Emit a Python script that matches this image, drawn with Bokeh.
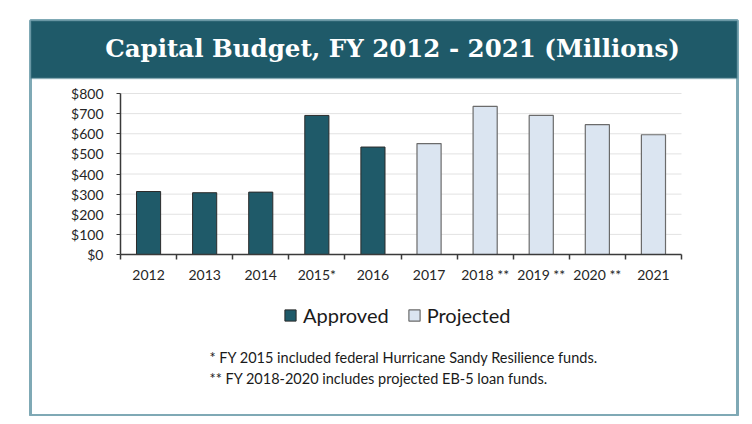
from bokeh.plotting import figure
from bokeh.models import (Range1d, FixedTicker, NumeralTickFormatter, Label, Legend,
                          LegendItem, ColumnDataSource, BoxAnnotation, LinearAxis)
from bokeh.embed import file_html
from bokeh.resources import INLINE

# ---- data ----
years = ["2012", "2013", "2014", "2015*", "2016", "2017", "2018 **", "2019 **", "2020 **", "2021"]
approved = [313, 307, 310, 691, 534, None, None, None, None, None]
projected = [None, None, None, None, None, 551, 736, 691, 645, 595]
y_ticks = [0, 100, 200, 300, 400, 500, 600, 700, 800]
title_text = "Capital Budget, FY 2012 - 2021 (Millions)"
notes = ["* FY 2015 included federal Hurricane Sandy Resilience funds.",
         "** FY 2018-2020 includes projected EB-5 loan funds."]

TEAL = "#1f5a69"
LIGHT = "#dbe5f1"
BORDER = "#7fa9b5"
FONT = "Lato"
AXC = "#3a3a3a"

# ---- layout geometry (picture pixels) ----
BOX_L, BOX_R, BOX_T, BOX_B = 30, 737, 20, 415     # outer card
PLOT_L, PLOT_R, PLOT_T, PLOT_B = 120, 681, 93, 254  # chart area
N = len(years)
YMAX = y_ticks[-1]
kx = (PLOT_R - PLOT_L) / N
ky = (PLOT_B - PLOT_T) / YMAX


def dx(px):
    return (px - PLOT_L) / kx


def dy(py):
    return (PLOT_B - py) / ky


W, H = 744, 416
p = figure(width=W, height=H, output_backend="svg", toolbar_location=None,
           x_axis_type=None, y_axis_type=None,
           x_range=Range1d(dx(BOX_L), dx(BOX_R)), y_range=Range1d(dy(BOX_B), dy(BOX_T)),
           min_border_left=BOX_L, min_border_right=W - BOX_R,
           min_border_top=BOX_T, min_border_bottom=H - BOX_B)
p.outline_line_color = BORDER
p.outline_line_width = 3
p.background_fill_color = "white"
p.border_fill_color = "white"
p.xgrid.visible = False
p.ygrid.visible = False

# title bar
p.add_layout(BoxAnnotation(left=dx(BOX_L), right=dx(BOX_R), top=dy(BOX_T), bottom=dy(78),
                           fill_color=TEAL, fill_alpha=1, line_color=BORDER, line_width=2,
                           level="underlay"))
p.add_layout(Label(x=dx(392), y=dy(48), text=title_text,
                   text_font="DejaVu Serif", text_font_style="bold", text_font_size="24.5px",
                   text_color="white", text_align="center", text_baseline="middle"))

# grid lines
grid_y = [v for v in y_ticks if v > 0]
p.segment(x0=[0] * len(grid_y), x1=[N] * len(grid_y), y0=grid_y, y1=grid_y,
          line_color="#e2e2e2", line_width=1)

ap_src = ColumnDataSource(dict(
    x=[i + 0.5 for i in range(N) if approved[i] is not None],
    top=[v for v in approved if v is not None]))
pr_src = ColumnDataSource(dict(
    x=[i + 0.5 for i in range(N) if projected[i] is not None],
    top=[v for v in projected if v is not None]))

r1 = p.vbar(x="x", top="top", width=0.43, bottom=0, source=ap_src,
            fill_color=TEAL, line_color="#2b2b2b", line_width=1)
r2 = p.vbar(x="x", top="top", width=0.43, bottom=0, source=pr_src,
            fill_color=LIGHT, line_color="#6b6b6b", line_width=1.2)

# x axis: labels at centres, tick marks at category boundaries
xax = LinearAxis(fixed_location=0, bounds=(0, N),
                 ticker=FixedTicker(ticks=[i + 0.5 for i in range(N)],
                                    minor_ticks=list(range(N + 1))))
xax.major_label_overrides = {i + 0.5: y for i, y in enumerate(years)}
xax.major_tick_line_color = None
xax.major_tick_in = 0
xax.major_tick_out = 5
xax.minor_tick_line_color = AXC
xax.minor_tick_in = 0
xax.minor_tick_out = 5
xax.minor_tick_line_width = 1.5
xax.axis_line_color = AXC
xax.axis_line_width = 1.5
xax.major_label_standoff = 6
xax.major_label_text_font = FONT
xax.major_label_text_font_size = "14px"
xax.major_label_text_color = "#262626"
p.add_layout(xax, "below")

yax = LinearAxis(fixed_location=0, bounds=(0, YMAX), ticker=FixedTicker(ticks=y_ticks),
                 formatter=NumeralTickFormatter(format="$0"))
yax.major_tick_in = 0
yax.major_tick_out = 4
yax.major_tick_line_color = AXC
yax.minor_tick_line_color = None
yax.axis_line_color = AXC
yax.axis_line_width = 1.5
yax.major_label_standoff = 13
yax.major_label_text_font = FONT
yax.major_label_text_font_size = "14px"
yax.major_label_text_color = "#262626"
p.add_layout(yax, "left")

# legend (screen offsets from frame bottom-left)
legend = Legend(items=[LegendItem(label="Approved", renderers=[r1]),
                       LegendItem(label="Projected", renderers=[r2])],
                orientation="horizontal", location=(283 - BOX_L, BOX_B - 327),
                glyph_width=14, glyph_height=14, label_text_font=FONT,
                label_text_font_size="20px", label_text_color="#1a1a1a",
                spacing=18, label_standoff=6, border_line_color=None,
                background_fill_alpha=0, padding=0, margin=0)
p.add_layout(legend)

# footnotes
for i, n in enumerate(notes):
    p.add_layout(Label(x=dx(209), y=dy(357 + i * 21), text=n,
                       text_font=FONT, text_font_size="14.5px", text_color="#1a1a1a",
                       text_align="left", text_baseline="middle"))

open("out.html", "w").write(file_html(p, INLINE))
